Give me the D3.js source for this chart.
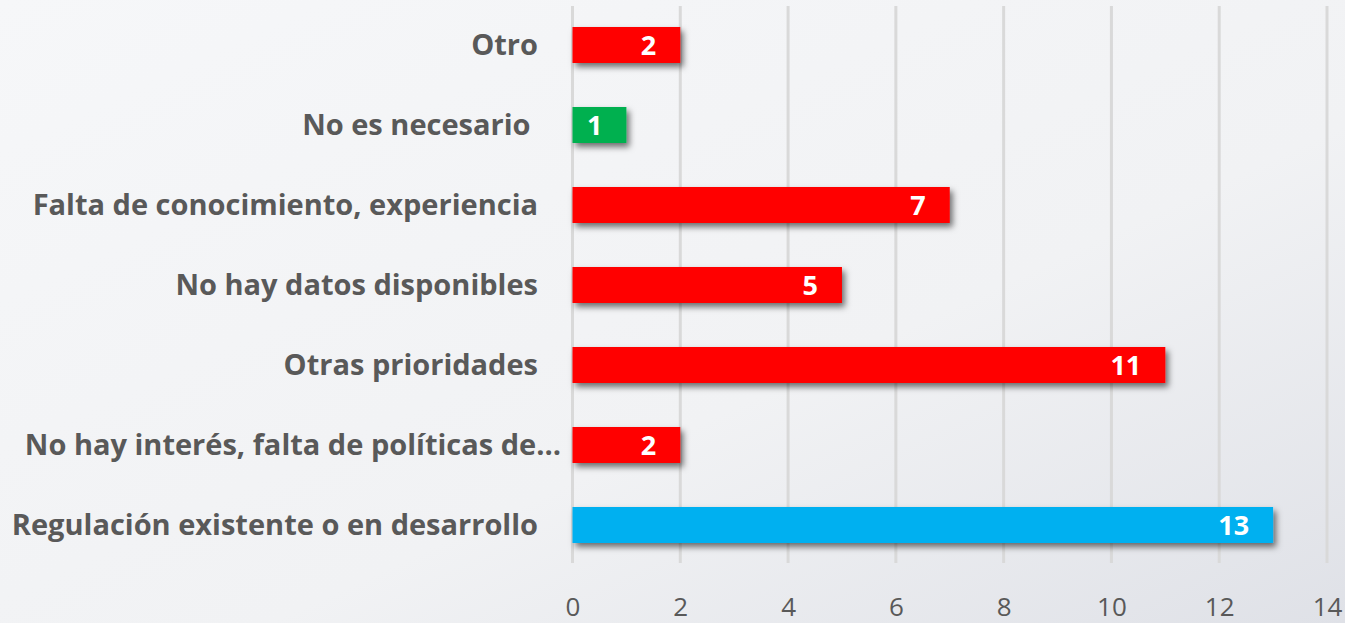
<!DOCTYPE html>
<html>
<head>
<meta charset="utf-8">
<script src="https://cdn.jsdelivr.net/npm/d3@7"></script>
<style>
  html, body { margin: 0; padding: 0; overflow: hidden; }
  svg { display: block; }
</style>
</head>
<body>
<svg id="chart" width="1345" height="623"></svg>
<script>
// categories from top to bottom, as in the picture
var categories = [
    "Otro",
    "No es necesario ",
    "Falta de conocimiento, experiencia",
    "No hay datos disponibles",
    "Otras prioridades",
    "No hay interés, falta de políticas de…",
    "Regulación existente o en desarrollo"
];
var values = [2, 1, 7, 5, 11, 2, 13];
var barColors = ["#FF0000", "#00B050", "#FF0000", "#FF0000", "#FF0000", "#FF0000", "#00B0F0"];
var tickValues = [0, 2, 4, 6, 8, 10, 12, 14];

var width = 1345, height = 623;
var svg = d3.select("#chart");

// background gradient
var defs = svg.append("defs");
var grad = defs.append("linearGradient")
    .attr("id", "bg")
    .attr("x1", "0").attr("y1", "0")
    .attr("x2", "1").attr("y2", "1");
grad.append("stop").attr("offset", "0").attr("stop-color", "#f6f7f9");
grad.append("stop").attr("offset", "0.6").attr("stop-color", "#f1f2f4");
grad.append("stop").attr("offset", "1").attr("stop-color", "#dfe1e7");

// soft shadow under bars
var shadow = defs.append("filter")
    .attr("id", "shadow")
    .attr("x", "-10%").attr("y", "-30%")
    .attr("width", "130%").attr("height", "180%");
shadow.append("feDropShadow")
    .attr("dx", 3).attr("dy", 4)
    .attr("stdDeviation", 3)
    .attr("flood-color", "#000")
    .attr("flood-opacity", 0.55);

svg.append("rect")
    .attr("width", width).attr("height", height)
    .attr("fill", "url(#bg)");

var x = d3.scaleLinear().domain([0, 14]).range([572.5, 1327]);
var y = d3.scaleBand()
    .domain(categories)
    .range([5, 565])
    .paddingInner(0.55)
    .paddingOuter(0.275);

// gridlines
svg.append("g")
    .selectAll("line")
    .data(tickValues)
    .enter().append("line")
    .attr("x1", function (d) { return x(d); })
    .attr("x2", function (d) { return x(d); })
    .attr("y1", 6)
    .attr("y2", 563)
    .attr("stroke", "#d9d9d9")
    .attr("stroke-width", 3);

// x axis tick labels
var xAxis = d3.axisBottom(x).tickValues(tickValues).tickSize(0).tickPadding(0);
var gx = svg.append("g")
    .attr("transform", "translate(0,590)")
    .call(xAxis);
gx.select(".domain").remove();
gx.selectAll("text")
    .attr("dy", null)
    .attr("y", 26)
    .attr("fill", "#595959")
    .style("font-family", "'Open Sans', sans-serif")
    .style("font-size", "26px");

// bars
svg.append("g")
    .selectAll("rect")
    .data(values)
    .enter().append("rect")
    .attr("x", x(0))
    .attr("y", function (d, i) { return y(categories[i]); })
    .attr("width", function (d) { return x(d) - x(0); })
    .attr("height", y.bandwidth())
    .attr("fill", function (d, i) { return barColors[i]; })
    .attr("filter", "url(#shadow)");

// value labels
svg.append("g")
    .selectAll("text")
    .data(values)
    .enter().append("text")
    .attr("x", function (d) { return x(d) - 24; })
    .attr("y", function (d, i) { return y(categories[i]) + y.bandwidth() / 2; })
    .attr("dy", "0.36em")
    .attr("text-anchor", "end")
    .attr("fill", "#ffffff")
    .style("font-family", "'Open Sans', sans-serif")
    .style("font-weight", "bold")
    .style("font-size", "27px")
    .text(function (d) { return d; });

// category labels (trailing spaces kept, truncated label overhangs like in Excel)
svg.append("g")
    .selectAll("text")
    .data(categories)
    .enter().append("text")
    .attr("x", function (d) { return d.slice(-1) === "…" ? 561 : 538; })
    .attr("y", function (d) { return y(d) + y.bandwidth() / 2; })
    .attr("dy", "0.35em")
    .attr("text-anchor", "end")
    .attr("fill", "#595959")
    .style("white-space", "pre")
    .style("font-family", "'Open Sans', sans-serif")
    .style("font-weight", "bold")
    .style("font-size", "29px")
    .text(function (d) { return d; });
</script>
</body>
</html>
